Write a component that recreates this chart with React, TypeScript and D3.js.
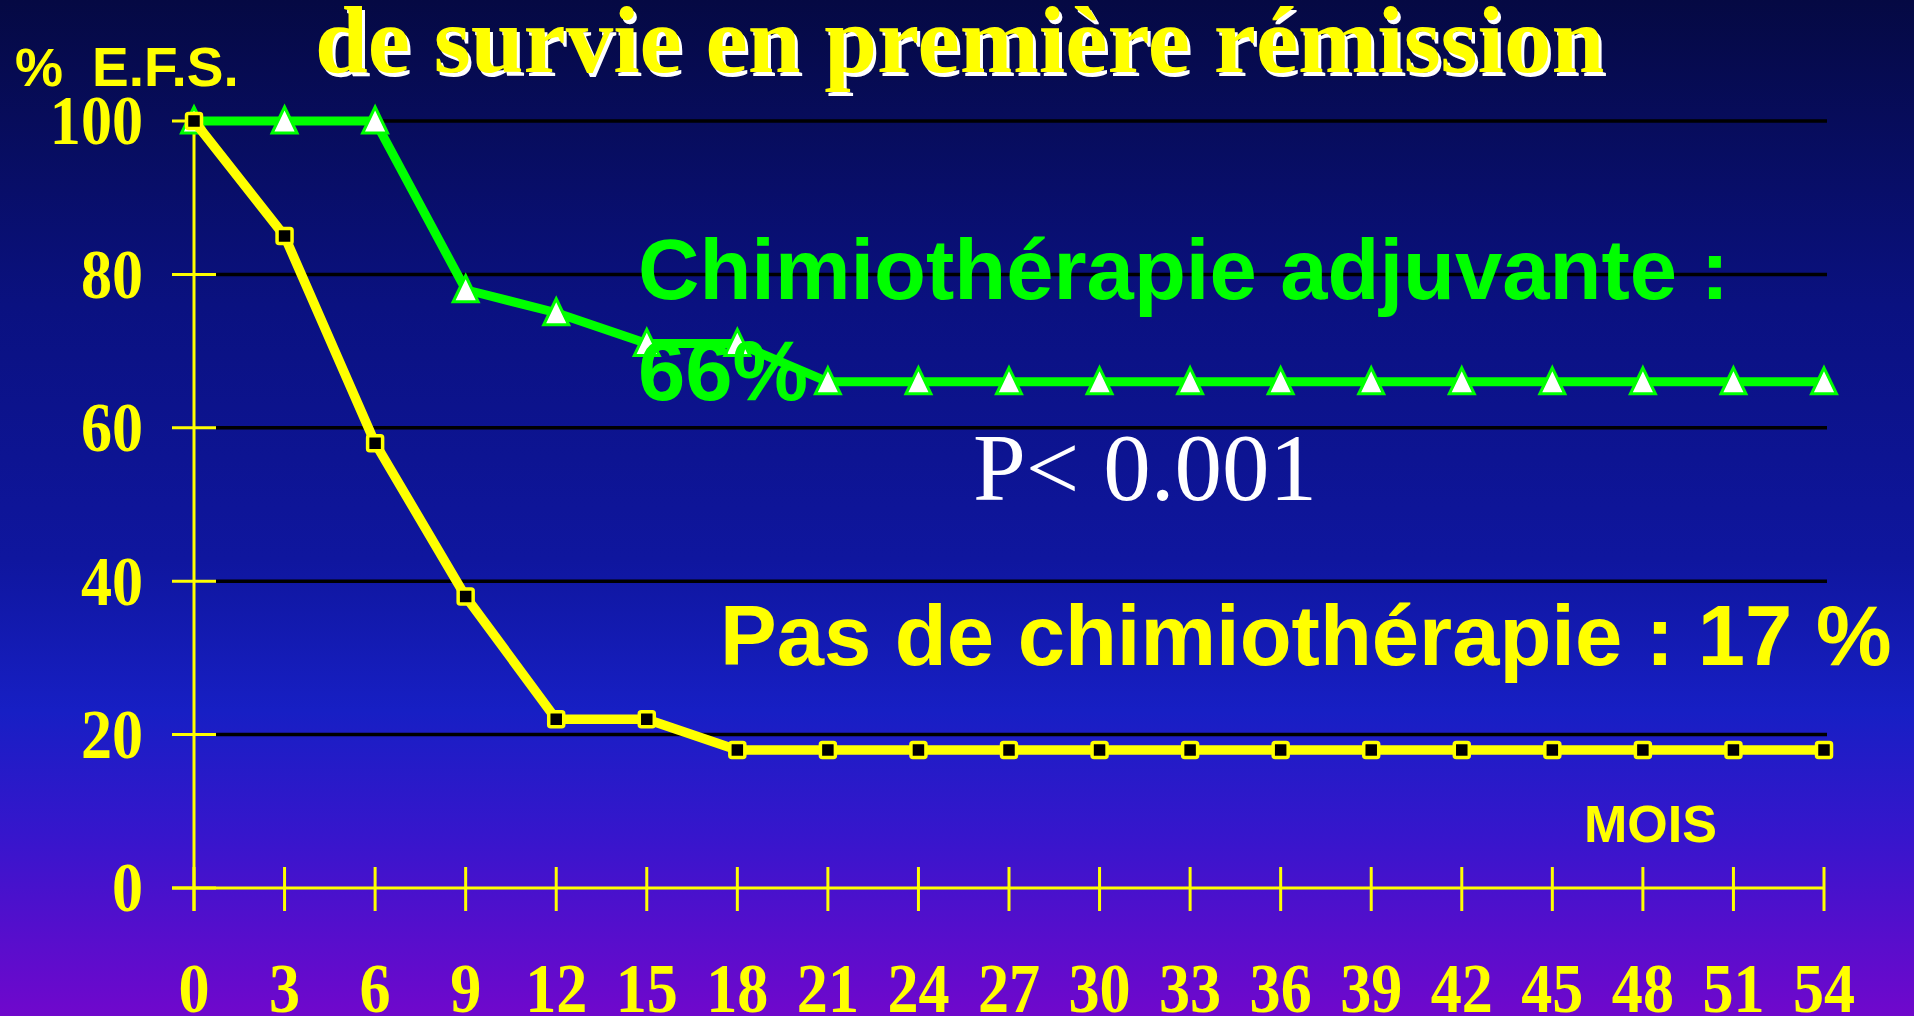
import React from "react";
import * as d3 from "d3";

const months = [0, 3, 6, 9, 12, 15, 18, 21, 24, 27, 30, 33, 36, 39, 42, 45, 48, 51, 54];
const chemoValues = [100, 100, 100, 78, 75, 71, 71, 66, 66, 66, 66, 66, 66, 66, 66, 66, 66, 66, 66];
const noChemoValues = [100, 85, 58, 38, 22, 22, 18, 18, 18, 18, 18, 18, 18, 18, 18, 18, 18, 18, 18];
const yTicks = [0, 20, 40, 60, 80, 100];
const gridValues = [20, 40, 60, 80, 100];

const W = 1914;
const H = 1016;

export default function App() {
  const x = d3.scaleLinear().domain([0, 54]).range([194, 1824]);
  const y = d3.scaleLinear().domain([0, 100]).range([888, 121]);

  const line = d3
    .line<number>()
    .x((_, i) => x(months[i]))
    .y((d) => y(d));

  const yellow = "#ffff00";
  const green = "#00ff00";
  const titleFont = "'Liberation Serif', 'Times New Roman', serif";
  const sans = "'Liberation Sans', Arial, sans-serif";

  return (
    <svg
      width={W}
      height={H}
      style={{ position: "absolute", left: 0, top: 0, display: "block" }}
    >
      <defs>
        <linearGradient id="bg" x1="0" y1="0" x2="0" y2="1">
          <stop offset="0" stopColor="#050943" />
          <stop offset="0.3" stopColor="#0a1180" />
          <stop offset="0.55" stopColor="#0f169e" />
          <stop offset="0.7" stopColor="#171fc4" />
          <stop offset="0.82" stopColor="#3616cc" />
          <stop offset="1" stopColor="#7008cc" />
        </linearGradient>
      </defs>
      <rect x={0} y={0} width={W} height={H} fill="url(#bg)" />

      {/* Title (with white shadow) */}
      <text
        x={318}
        y={76}
        fontFamily={titleFont}
        fontWeight="bold"
        fontSize={95}
        fill="#ffffff"
      >
        de survie en première rémission
      </text>
      <text
        x={315}
        y={72}
        fontFamily={titleFont}
        fontWeight="bold"
        fontSize={95}
        fill={yellow}
      >
        de survie en première rémission
      </text>

      {/* Y axis title */}
      <text x={15} y={86} fontFamily={sans} fontWeight="bold" fontSize={54} fill={yellow}>
        %
      </text>
      <text x={92} y={86} fontFamily={sans} fontWeight="bold" fontSize={55} fill={yellow}>
        E.F.S.
      </text>

      {/* Gridlines */}
      {gridValues.map((v) => (
        <line
          key={"g" + v}
          x1={216}
          x2={1827}
          y1={y(v)}
          y2={y(v)}
          stroke="#000000"
          strokeWidth={3.5}
        />
      ))}

      {/* Y axis */}
      <line x1={x(0)} x2={x(0)} y1={y(100)} y2={911} stroke={yellow} strokeWidth={3} />
      {yTicks.map((v) => (
        <g key={"yt" + v}>
          <line x1={172} x2={216} y1={y(v)} y2={y(v)} stroke={yellow} strokeWidth={3} />
          <text
            transform={`translate(143,${y(v)}) scale(0.9,1)`}
            dy="0.34em"
            textAnchor="end"
            fontFamily={titleFont}
            fontWeight="bold"
            fontSize={69}
            fill={yellow}
          >
            {v}
          </text>
        </g>
      ))}

      {/* X axis */}
      <line x1={172} x2={x(54)} y1={y(0)} y2={y(0)} stroke={yellow} strokeWidth={3} />
      {months.map((m) => (
        <g key={"xt" + m}>
          <line x1={x(m)} x2={x(m)} y1={867} y2={911} stroke={yellow} strokeWidth={3} />
          <text
            transform={`translate(${x(m)},1012) scale(0.9,1)`}
            textAnchor="middle"
            fontFamily={titleFont}
            fontWeight="bold"
            fontSize={69}
            fill={yellow}
          >
            {m}
          </text>
        </g>
      ))}

      {/* Chemo series (green triangles) */}
      <path d={line(chemoValues) || ""} fill="none" stroke={green} strokeWidth={9} strokeLinejoin="miter" />
      {chemoValues.map((v, i) => {
        const cx = x(months[i]);
        const cy = y(v);
        return (
          <path
            key={"c" + i}
            d={`M${cx},${cy - 14} L${cx + 12.5},${cy + 12} L${cx - 12.5},${cy + 12} Z`}
            fill="#ffffff"
            stroke={green}
            strokeWidth={3}
            strokeLinejoin="miter"
          />
        );
      })}

      {/* No chemo series (yellow squares) */}
      <path d={line(noChemoValues) || ""} fill="none" stroke={yellow} strokeWidth={9.5} strokeLinejoin="miter" />
      {noChemoValues.map((v, i) => {
        const cx = x(months[i]);
        const cy = y(v);
        return (
          <rect
            key={"n" + i}
            x={cx - 7.5}
            y={cy - 7.5}
            width={15}
            height={15}
            rx={2}
            fill="#000000"
            stroke={yellow}
            strokeWidth={3.5}
          />
        );
      })}

      {/* Annotations */}
      <text x={638} y={299} fontFamily={sans} fontWeight="bold" fontSize={85} fill={green}>
        Chimiothérapie adjuvante :
      </text>
      <text x={638} y={400} fontFamily={sans} fontWeight="bold" fontSize={85} fill={green}>
        66%
      </text>
      <text x={973} y={500} fontFamily={titleFont} fontSize={95} fill="#ffffff">
        P&lt; 0.001
      </text>
      <text x={720} y={665} fontFamily={sans} fontWeight="bold" fontSize={85} fill={yellow}>
        Pas de chimiothérapie : 17 %
      </text>
      <text x={1584} y={842} fontFamily={sans} fontWeight="bold" fontSize={52} fill={yellow}>
        MOIS
      </text>
    </svg>
  );
}
